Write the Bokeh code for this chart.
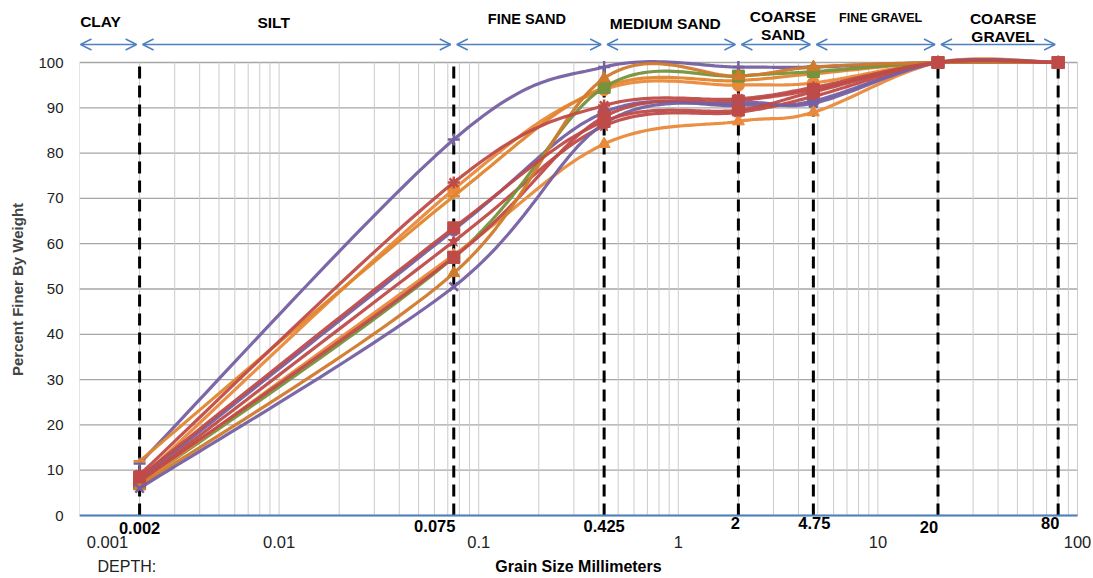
import numpy as np
from bokeh.plotting import figure
from bokeh.models import Range1d, FixedTicker, Arrow, OpenHead, ColumnDataSource
from bokeh.core.properties import value
from bokeh.embed import file_html
from bokeh.resources import INLINE

# ---------------- data ----------------
sieve_sizes = [0.002, 0.075, 0.425, 2, 4.75, 20, 80]
sieve_labels = ["0.002", "0.075", "0.425", "2", "4.75", "20", "80"]

series_colors = ["#7660A2", "#E9893A", "#E0862E", "#7660A2", "#BF4B48",
                 "#76923C", "#E9893A", "#BF4B48", "#D07A2C", "#7660A2", "#BF4B48", "#BF4B48"]
series_markers = ["cross", "circle", "dash", "circle", "star",
                  "square", "triangle", "square", "triangle", "x", "square", "asterisk"]
s01 = [11.5, 83.0, 99.0, 99.0, 99.0, 100, 100]
s02 = [8.0, 72.0, 94.0, 95.0, 95.5, 100, 100]
s03 = [12.0, 70.5, 94.5, 96.0, 97.5, 100, 100]
s04 = [8.0, 63.0, 89.0, 90.5, 91.5, 100, 100]
s05 = [7.5, 60.5, 86.0, 89.0, 92.5, 100, 100]
s06 = [7.0, 57.0, 94.5, 97.0, 98.0, 100, 100]
s07 = [7.0, 57.5, 82.0, 87.0, 89.0, 100, 100]
s08 = [7.5, 57.0, 88.0, 91.5, 94.0, 100, 100]
s09 = [6.5, 53.5, 96.5, 97.0, 99.0, 100, 100]
s10 = [6.0, 50.5, 86.5, 91.0, 91.0, 100, 100]
s11 = [8.5, 63.5, 87.0, 89.5, 93.5, 100, 100]
s12 = [9.0, 73.5, 90.5, 92.0, 94.5, 100, 100]
series_values = [s01, s02, s03, s04, s05, s06, s07, s08, s09, s10, s11, s12]

zone_names = ["CLAY", "SILT", "FINE SAND", "MEDIUM SAND", "COARSE\nSAND",
              "FINE GRAVEL", "COARSE\nGRAVEL"]
zone_bounds = [0.001, 0.002, 0.075, 0.425, 2, 4.75, 20, 80]
decade_ticks = [0.001, 0.01, 0.1, 1, 10, 100]
decade_labels = ["0.001", "0.01", "0.1", "1", "10", "100"]
y_ticks = list(range(0, 101, 10))
x_title = "Grain Size Millimeters"
y_title = "Percent Finer By Weight"
depth_text = "DEPTH:"

# ---------------- layout constants ----------------
PX_Y = 453 / 100.0             # pixels per percent
PX_DEC = 998 / 5.0             # pixels per decade
BLUE = "#4F81BD"
FONT = value("Liberation Sans")


def ypx(px_below_zero):
    """data y for a pixel distance below (negative: above) the 0 line"""
    return -px_below_zero / PX_Y


def smooth(xs, ys, n=30):
    P = np.column_stack([np.log10(np.array(xs, float)), np.array(ys, float)])
    E = np.vstack([P[0], P, P[-1]])
    parts = []
    t = np.linspace(0, 1, n)[:, None]
    for i in range(len(P) - 1):
        p0, p1, p2, p3 = E[i], E[i + 1], E[i + 2], E[i + 3]
        c1 = p1 + (p2 - p0) / 6.0
        c2 = p2 - (p3 - p1) / 6.0
        B = (1 - t) ** 3 * p1 + 3 * (1 - t) ** 2 * t * c1 + 3 * (1 - t) * t ** 2 * c2 + t ** 3 * p2
        parts.append(B if i == 0 else B[1:])
    B = np.vstack(parts)
    return 10 ** B[:, 0], B[:, 1]


x_lo, x_hi = decade_ticks[0], decade_ticks[-1] * 10 ** (16 / PX_DEC)
p = figure(width=1093, height=578, x_axis_type="log", x_axis_location=None,
           x_range=Range1d(x_lo, x_hi), y_range=Range1d(ypx(63), ypx(-515)),
           output_backend="svg", toolbar_location=None,
           min_border_left=79, min_border_right=0, min_border_top=0, min_border_bottom=0)
p.outline_line_color = None
p.background_fill_color = "white"
p.border_fill_color = "white"
p.xgrid.visible = False
p.ygrid.visible = False

# grid lines (stop at the plot area 0.001..100, 0..100)
p.segment(x0=[decade_ticks[0]] * len(y_ticks), y0=y_ticks,
          x1=[decade_ticks[-1]] * len(y_ticks), y1=y_ticks,
          line_color="#A6A6A6", line_width=1.3)
minor_x = [m * d for d in decade_ticks[:-1] for m in range(1, 10)] + [decade_ticks[-1]]
p.segment(x0=minor_x, y0=[0] * len(minor_x), x1=minor_x, y1=[100] * len(minor_x),
          line_color="#CBCBCB", line_width=1)

# dashed boundaries
p.segment(x0=sieve_sizes, y0=[0] * len(sieve_sizes), x1=sieve_sizes, y1=[100] * len(sieve_sizes),
          line_color="black", line_width=3, line_dash="12 7")

# x axis line
p.line(x=[decade_ticks[0], decade_ticks[-1]], y=[0, 0], line_color=BLUE, line_width=2)

# y axis
ya = p.left[0]
ya.ticker = FixedTicker(ticks=y_ticks)
ya.bounds = (0, 100)
ya.axis_line_color = None
ya.major_tick_line_color = None
ya.minor_tick_line_color = None
ya.major_label_standoff = 10
ya.major_label_text_font = "Liberation Sans"
ya.major_label_text_font_size = "15px"
ya.major_label_text_color = "#222222"
ya.axis_label = y_title
ya.axis_label_text_font = "Liberation Sans"
ya.axis_label_text_font_style = "bold"
ya.axis_label_text_font_size = "15px"
ya.axis_label_standoff = 9

# series
for vals, col, mk in zip(series_values, series_colors, series_markers):
    sx, sy = smooth(sieve_sizes, vals)
    p.line(sx, sy, line_color=col, line_width=3.2, line_alpha=0.95)
    src = ColumnDataSource(dict(x=sieve_sizes, y=vals))
    if mk in ("asterisk", "cross", "x", "dash"):
        p.scatter("x", "y", source=src, marker=mk, size=12, line_color=col, line_width=2.5)
    else:
        p.scatter("x", "y", source=src, marker=mk, size=12, fill_color=col, line_color=col)

# x tick labels (decades)
dec_dx = [28, 0, 0, 0, 0, 0]
dsrc = ColumnDataSource(dict(x=decade_ticks, y=[ypx(26)] * len(decade_ticks),
                             t=decade_labels, dx=dec_dx))
p.text(x="x", y="y", text="t", x_offset="dx", source=dsrc, text_font=FONT,
       text_font_size="16.5px", text_color="#222222", text_align="center", text_baseline="middle")

# bold sieve labels
lab_dx = [0, -19, 0, -3, 1, -9, -8]
lab_dy = [12, 10, 10, 7, 7, 11, 7]
ssrc = ColumnDataSource(dict(x=sieve_sizes, y=[ypx(d) for d in lab_dy],
                             t=sieve_labels, dx=lab_dx))
p.text(x="x", y="y", text="t", x_offset="dx", source=ssrc, text_font=FONT,
       text_font_style="bold", text_font_size="16.5px", text_color="black",
       text_align="center", text_baseline="middle")

# axis title and DEPTH
p.text(x=[10 ** ((np.log10(decade_ticks[0]) + np.log10(decade_ticks[-1])) / 2)], y=[ypx(51)],
       text=[x_title], text_font=FONT, text_font_style="bold", text_font_size="16px",
       text_color="black", text_align="center", text_baseline="middle")
p.text(x=[decade_ticks[0] * 10 ** (18 / PX_DEC)], y=[ypx(51)], text=[depth_text], text_font=FONT,
       text_font_size="16px", text_color="#222222", text_align="left", text_baseline="middle")

# zone header
lb = np.log10(zone_bounds)
centers = [10 ** ((lb[i] + lb[i + 1]) / 2) for i in range(len(zone_names))]
name_dx = [-9, -23, -2, -6, 7, 5, 5]
name_dy = [-494, -493, -497, -492, -490, -498, -488]
name_size = ["15.5px", "15.5px", "14.5px", "15.5px", "15.5px", "12.5px", "15.5px"]
hdr = ColumnDataSource(dict(x=centers, y=[ypx(d) for d in name_dy], t=zone_names,
                            dx=name_dx, fs=name_size))
p.text(x="x", y="y", text="t", x_offset="dx", text_font_size="fs", source=hdr,
       text_font=FONT, text_font_style="bold", text_color="black",
       text_align="center", text_baseline="middle", text_line_height=1.1)

gap = 10 ** (3 / PX_DEC)
for i in range(len(zone_names)):
    x0 = zone_bounds[i] * gap if i > 0 else zone_bounds[0] * 10 ** (1 / PX_DEC)
    x1 = zone_bounds[i + 1] / gap
    p.add_layout(Arrow(x_start=x0, y_start=ypx(-471), x_end=x1, y_end=ypx(-471),
                       line_color=BLUE, line_width=1.5,
                       start=OpenHead(size=11, line_color=BLUE, line_width=1.5),
                       end=OpenHead(size=11, line_color=BLUE, line_width=1.5)))

open("out.html", "w").write(file_html(p, INLINE))
